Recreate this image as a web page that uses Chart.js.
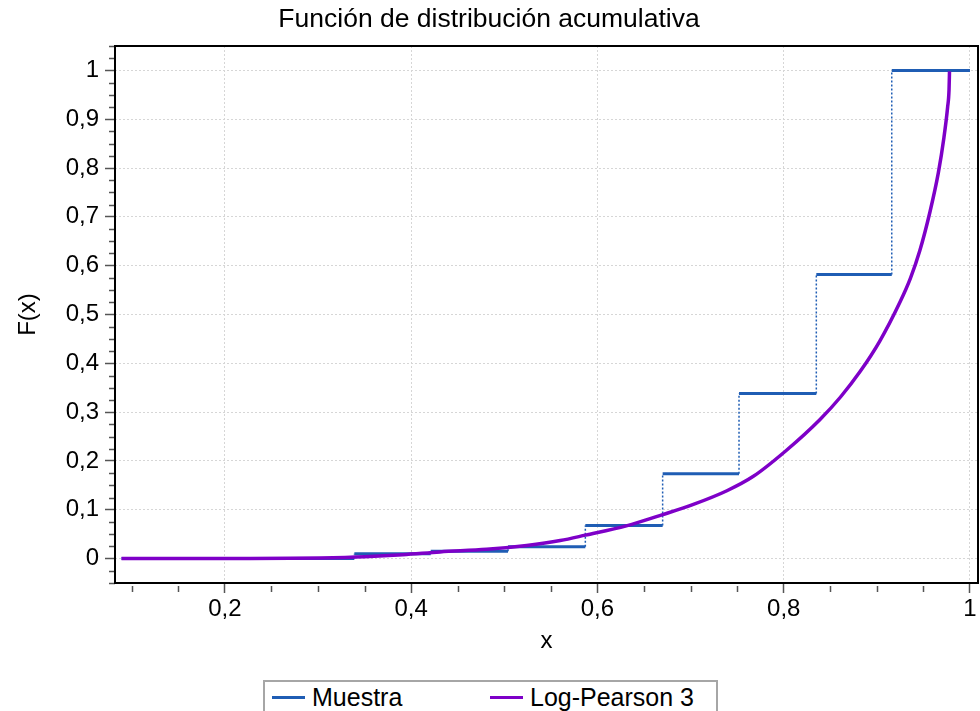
<!DOCTYPE html>
<html>
<head>
<meta charset="utf-8">
<script src="https://cdn.jsdelivr.net/npm/chart.js@4.4.1/dist/chart.umd.min.js"></script>
<style>
  body { margin: 0; background: #fff; }
  #wrap { position: relative; width: 980px; height: 711px; overflow: hidden; }
  #legend {
    position: absolute; left: 263px; top: 680px; width: 451px; height: 44px;
    border: 2px solid #a6a6a6; background: #fff;
    font: 25px 'Liberation Sans', Arial, sans-serif; color: #000;
  }
  #legend .sw { position: absolute; top: 14px; width: 33px; height: 3px; }
  #legend .lb { position: absolute; top: 0; line-height: 30px; white-space: nowrap; }
</style>
</head>
<body>
<div id="wrap">
  <canvas id="cdfChart" width="980" height="711"></canvas>
  <div id="legend"></div>
</div>
<script>
/* chart text */
const TITLE   = 'Función de distribución acumulativa';
const X_LABEL = 'x';
const Y_LABEL = 'F(x)';
const SERIES  = ['Muestra', 'Log-Pearson 3'];

/* axes */
const X_TICKS = [0.2, 0.4, 0.6, 0.8, 1];
const Y_TICKS = [0, 0.1, 0.2, 0.3, 0.4, 0.5, 0.6, 0.7, 0.8, 0.9, 1];
const X_MIN = 0.082, X_MAX = 1.0086;
const Y_MIN = -0.05, Y_MAX = 1.05;

/* empirical step function (Muestra) */
const STEP_X = [0.089, 0.339, 0.421, 0.504, 0.587, 0.670, 0.752, 0.835, 0.916];
const STEP_Y = [0,     0.010, 0.015, 0.024, 0.068, 0.174, 0.338, 0.582, 1.0];
const STEP_END_X = 1.0;

/* fitted curve (Log-Pearson 3) */
const FIT_X = [0.089, 0.227, 0.270, 0.302, 0.350, 0.391, 0.431, 0.481, 0.524, 0.560,
               0.587, 0.631, 0.670, 0.703, 0.739, 0.767, 0.803, 0.839, 0.861, 0.882,
               0.903, 0.925, 0.936, 0.946, 0.957, 0.966, 0.972, 0.976, 0.9775, 0.978];
const FIT_Y = [0,     0,     0.0005, 0.0014, 0.004, 0.008, 0.0137, 0.019, 0.027, 0.037,
               0.048, 0.067, 0.090, 0.111, 0.139, 0.168, 0.222, 0.285, 0.331, 0.383,
               0.445, 0.526, 0.574, 0.630, 0.710, 0.790, 0.862, 0.925, 0.960, 0.998];

const COLORS = { blue: '#1f5db4', purple: '#7e00c8', grid: '#d6d6d6', tick: '#555555' };
const FONT = "'Liberation Sans', Arial, sans-serif";

/* step points: vertical rise then horizontal run */
const stepPts = [];
STEP_X.forEach((x, i) => {
  if (i > 0) stepPts.push({ x, y: STEP_Y[i - 1] });
  stepPts.push({ x, y: STEP_Y[i] });
});
stepPts.push({ x: STEP_END_X, y: STEP_Y[STEP_Y.length - 1] });

const fitPts = FIT_X.map((x, i) => ({ x, y: FIT_Y[i] }));

const fmt = v => String(Math.round(v * 10) / 10).replace('.', ',');
const isVert = ctx => ctx.p0.parsed.x === ctx.p1.parsed.x;

/* frame + minor ticks */
const framePlugin = {
  id: 'frame',
  afterDraw(chart) {
    const { ctx, chartArea: a, scales: { x, y } } = chart;
    ctx.save();
    ctx.strokeStyle = COLORS.tick;
    ctx.lineWidth = 1.5;
    ctx.beginPath();
    for (let v = 0.1; v <= X_MAX; v += 0.05) {
      if (Math.abs(v / 0.2 - Math.round(v / 0.2)) < 1e-6) continue;
      const px = Math.round(x.getPixelForValue(v)) + 0.5;
      ctx.moveTo(px, a.bottom + 3); ctx.lineTo(px, a.bottom + 9);
    }
    for (let v = -0.05; v <= Y_MAX + 1e-9; v += 0.025) {
      if (Math.abs(v / 0.1 - Math.round(v / 0.1)) < 1e-6) continue;
      const py = Math.round(y.getPixelForValue(v)) + 0.5;
      ctx.moveTo(a.left - 6, py); ctx.lineTo(a.left, py);
    }
    ctx.stroke();
    ctx.strokeStyle = '#000';
    ctx.lineWidth = 2;
    ctx.strokeRect(a.left, a.top, a.right - a.left, a.bottom - a.top);
    ctx.restore();
  },
};

new Chart(document.getElementById('cdfChart'), {
  type: 'line',
  data: {
    datasets: [
      {
        label: SERIES[0],
        data: stepPts,
        borderColor: COLORS.blue,
        borderWidth: 3,
        pointRadius: 0,
        fill: false,
        order: 1,
        segment: {
          borderDash: ctx => isVert(ctx) ? [2, 2] : undefined,
          borderWidth: ctx => isVert(ctx) ? 1.5 : 3,
        },
      },
      {
        label: SERIES[1],
        data: fitPts,
        borderColor: COLORS.purple,
        borderWidth: 3.5,
        pointRadius: 0,
        fill: false,
        cubicInterpolationMode: 'monotone',
        order: 0,
      },
    ],
  },
  options: {
    responsive: false,
    animation: false,
    devicePixelRatio: 1,
    layout: { padding: { left: 0, right: 2, top: 0, bottom: 43 } },
    plugins: {
      legend: { display: false },
      tooltip: { enabled: false },
      title: {
        display: true,
        text: TITLE,
        color: '#000',
        font: { family: FONT, size: 26.5, weight: 'normal' },
        padding: { top: 4, bottom: 10.2 },
      },
    },
    scales: {
      x: {
        type: 'linear',
        min: X_MIN, max: X_MAX,
        afterBuildTicks: s => { s.ticks = X_TICKS.map(v => ({ value: v })); },
        afterFit: s => { s.height = 85; },
        ticks: { color: '#000', font: { family: FONT, size: 24 }, padding: 2, callback: v => fmt(v), maxRotation: 0 },
        grid: { color: COLORS.grid, tickColor: COLORS.tick, tickLength: 10, tickWidth: 1.5, tickBorderDash: [] },
        border: { display: false, dash: [2, 2] },
        title: { display: true, text: X_LABEL, color: '#000', font: { family: FONT, size: 24 }, padding: { top: 0, bottom: 12 } },
      },
      y: {
        type: 'linear',
        min: Y_MIN, max: Y_MAX,
        afterBuildTicks: s => { s.ticks = Y_TICKS.map(v => ({ value: v })); },
        afterFit: s => { s.width = 115; },
        ticks: { color: '#000', font: { family: FONT, size: 24 }, padding: 6, callback: v => fmt(v) },
        grid: { color: COLORS.grid, tickColor: COLORS.tick, tickLength: 10, tickWidth: 1.5, tickBorderDash: [] },
        border: { display: false, dash: [2, 2] },
        title: { display: true, text: Y_LABEL, color: '#000', font: { family: FONT, size: 24 }, padding: { top: 14, bottom: 0 } },
      },
    },
  },
  plugins: [framePlugin],
});

/* custom legend */
const legEl = document.getElementById('legend');
const legPos = [{ sw: 7, lb: 47 }, { sw: 225, lb: 265 }];
legEl.innerHTML = SERIES.map((s, i) =>
  `<span class="sw" style="left:${legPos[i].sw}px;background:${[COLORS.blue, COLORS.purple][i]}"></span>
   <span class="lb" style="left:${legPos[i].lb}px">${s}</span>`
).join('');
</script>
</body>
</html>
